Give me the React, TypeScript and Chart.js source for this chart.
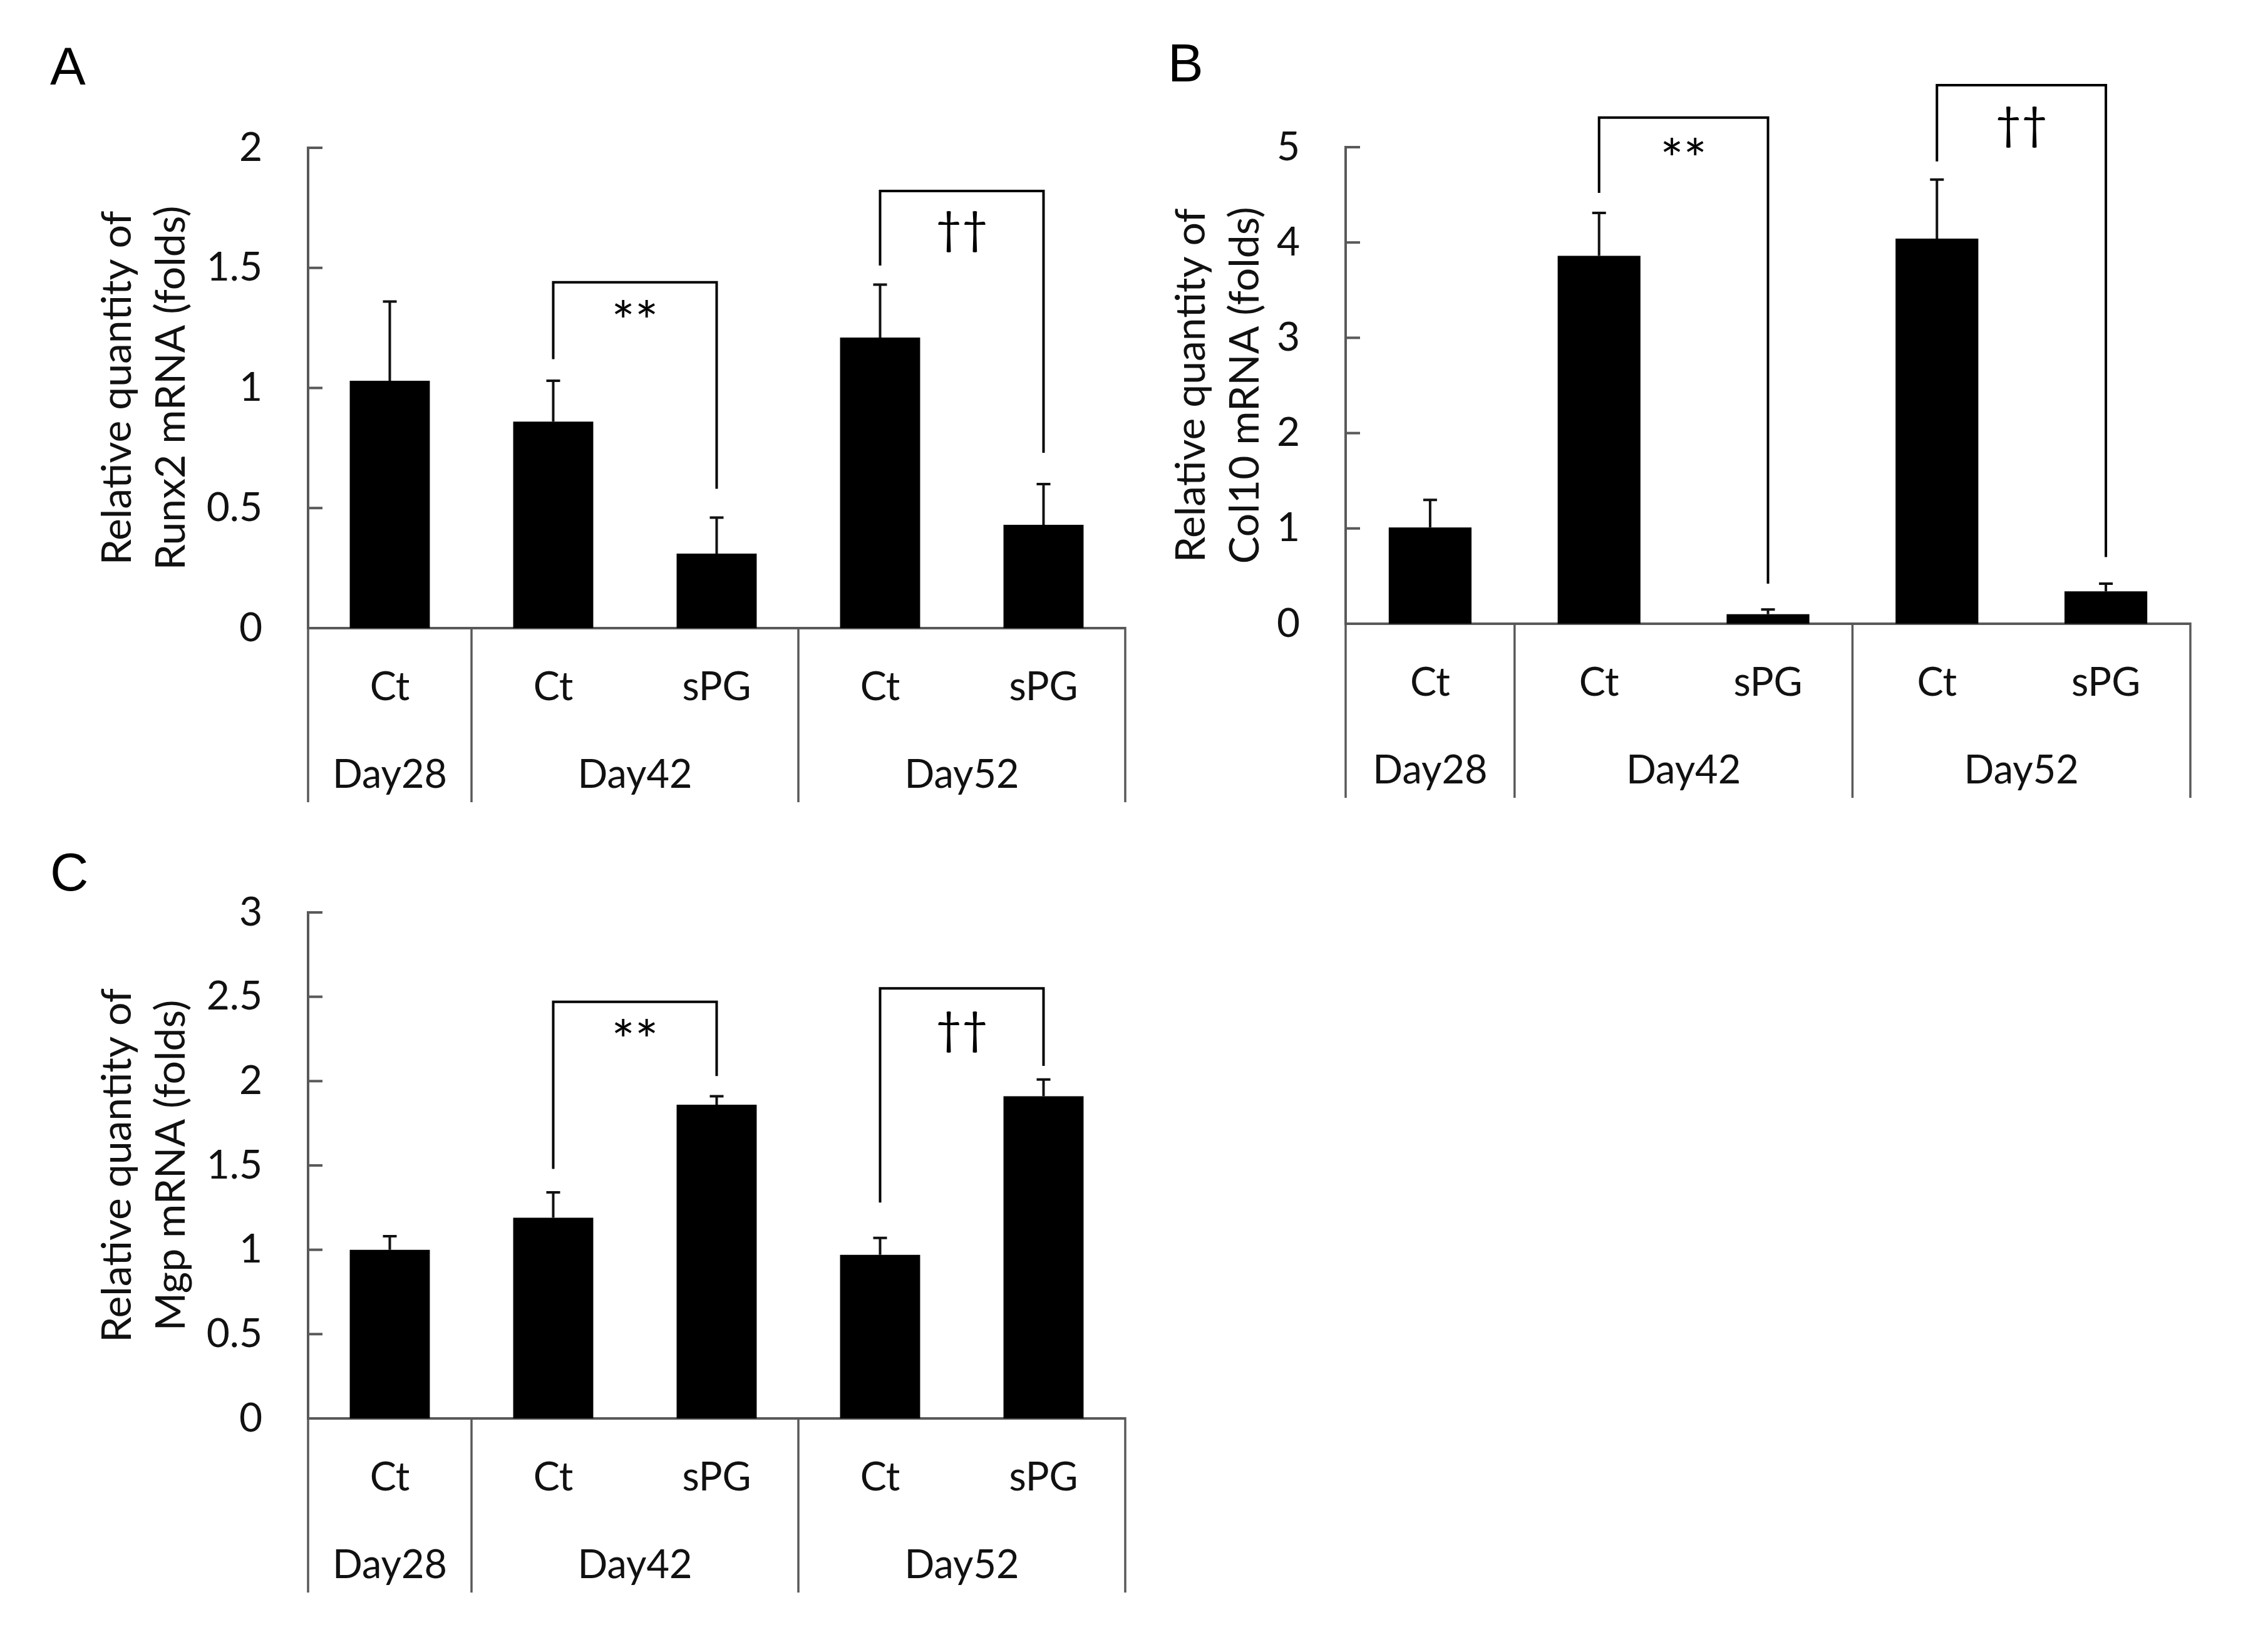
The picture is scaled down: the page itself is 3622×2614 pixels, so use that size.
import React, { useEffect, useRef } from 'react';
import { Chart, registerables } from 'chart.js';

Chart.register(...registerables);

// ---------------- data ----------------
const categories = ['Ct', 'Ct', 'sPG', 'Ct', 'sPG'];
const dayGroups = ['Day28', 'Day42', 'Day52'];
const dayGroupFirst = [0, 1, 3];
const dayGroupLast = [0, 2, 4];

const runx2Values = [1.03, 0.86, 0.31, 1.21, 0.43];
const runx2Errors = [0.33, 0.17, 0.15, 0.22, 0.17];

const col10Values = [1.01, 3.86, 0.10, 4.04, 0.34];
const col10Errors = [0.29, 0.45, 0.05, 0.62, 0.08];

const mgpValues = [1.0, 1.19, 1.86, 0.97, 1.91];
const mgpErrors = [0.08, 0.15, 0.05, 0.1, 0.1];

type Bracket = { from: number; to: number; top: number; leftEnd: number; rightEnd: number; mark: string; markAt: number };

const runx2Brackets: Bracket[] = [
  { from: 1, to: 2, top: 1.44, leftEnd: 1.12, rightEnd: 0.58, mark: '**', markAt: 1.33 },
  { from: 3, to: 4, top: 1.82, leftEnd: 1.51, rightEnd: 0.73, mark: '††', markAt: 1.65 },
];
const col10Brackets: Bracket[] = [
  { from: 1, to: 2, top: 5.31, leftEnd: 4.52, rightEnd: 0.42, mark: '**', markAt: 5.01 },
  { from: 3, to: 4, top: 5.65, leftEnd: 4.85, rightEnd: 0.7, mark: '††', markAt: 5.21 },
];
const mgpBrackets: Bracket[] = [
  { from: 1, to: 2, top: 2.47, leftEnd: 1.48, rightEnd: 2.03, mark: '**', markAt: 2.32 },
  { from: 3, to: 4, top: 2.55, leftEnd: 1.28, rightEnd: 2.09, mark: '††', markAt: 2.29 },
];

// ---------------- styles ----------------
const FONT = 'Lato, "Open Sans", sans-serif';
const LETTER_FONT = '"Liberation Sans", Arial, sans-serif';
const AXIS_COLOR = '#595959';
const TEXT_COLOR = '#111111';

type PanelCfg = {
  letter: string;
  letterX: number;
  letterY: number;
  values: number[];
  errors: number[];
  brackets: Bracket[];
  yMax: number;
  yStep: number;
  title: string[];
  titlePad: number;
  box: { left: number; top: number; width: number; height: number };
  padding: { left: number; right: number; top: number; bottom: number };
  yWidth: number;
};

const panels: PanelCfg[] = [
  {
    letter: 'A', letterX: 80, letterY: 135,
    values: runx2Values, errors: runx2Errors, brackets: runx2Brackets,
    yMax: 2, yStep: 0.5,
    title: ['Relative quantity of', 'Runx2 mRNA (folds)'], titlePad: 145,
    box: { left: 0, top: 0, width: 1850, height: 1320 },
    padding: { left: 0, right: 53, top: 236, bottom: 27 },
    yWidth: 492,
  },
  {
    letter: 'B', letterX: 15, letterY: 130,
    values: col10Values, errors: col10Errors, brackets: col10Brackets,
    yMax: 5, yStep: 1,
    title: ['Relative quantity of', 'Col10 mRNA (folds)'], titlePad: 10,
    box: { left: 1850, top: 0, width: 1772, height: 1320 },
    padding: { left: 0, right: 124, top: 235, bottom: 34 },
    yWidth: 299,
  },
  {
    letter: 'C', letterX: 80, letterY: 92,
    values: mgpValues, errors: mgpErrors, brackets: mgpBrackets,
    yMax: 3, yStep: 0.5,
    title: ['Relative quantity of', 'Mgp mRNA (folds)'], titlePad: 145,
    box: { left: 0, top: 1330, width: 1850, height: 1284 },
    padding: { left: 0, right: 53, top: 127, bottom: 59 },
    yWidth: 492,
  },
];

function makeDecor(cfg: PanelCfg) {
  return {
    id: 'decor' + cfg.letter,
    afterDraw(chart: any) {
      const { ctx, chartArea } = chart;
      const x = chart.scales.x;
      const y = chart.scales.y;
      ctx.save();

      // inward tick marks on the value axis
      ctx.strokeStyle = AXIS_COLOR;
      ctx.lineWidth = 4;
      y.ticks.forEach((t: any) => {
        const py = y.getPixelForValue(t.value);
        ctx.beginPath();
        ctx.moveTo(chartArea.left, py);
        ctx.lineTo(chartArea.left + 23, py);
        ctx.stroke();
      });

      // table lines below the axis
      const tableDepth = 278;
      const bounds: number[] = [chartArea.left];
      for (let g = 1; g < dayGroups.length; g++) {
        const a = x.getPixelForValue(dayGroupFirst[g] - 1);
        const b = x.getPixelForValue(dayGroupFirst[g]);
        bounds.push((a + b) / 2);
      }
      bounds.push(chartArea.right);
      ctx.lineWidth = 3.5;
      bounds.forEach((bx) => {
        ctx.beginPath();
        ctx.moveTo(bx, chartArea.bottom - 2);
        ctx.lineTo(bx, chartArea.bottom + tableDepth);
        ctx.stroke();
      });

      // group labels
      ctx.fillStyle = TEXT_COLOR;
      ctx.font = `63px ${FONT}`;
      ctx.textAlign = 'center';
      ctx.textBaseline = 'middle';
      dayGroups.forEach((g, i) => {
        const cx = (x.getPixelForValue(dayGroupFirst[i]) + x.getPixelForValue(dayGroupLast[i])) / 2;
        ctx.fillText(g, cx, chartArea.bottom + 235);
      });

      // error bars (upper)
      const meta = chart.getDatasetMeta(0);
      ctx.strokeStyle = '#111111';
      ctx.lineWidth = 4;
      cfg.values.forEach((v, i) => {
        const bx = meta.data[i].x;
        const y0 = y.getPixelForValue(v);
        const y1 = y.getPixelForValue(v + cfg.errors[i]);
        ctx.beginPath();
        ctx.moveTo(bx, y0);
        ctx.lineTo(bx, y1);
        ctx.moveTo(bx - 11, y1);
        ctx.lineTo(bx + 11, y1);
        ctx.stroke();
      });

      // significance brackets
      ctx.strokeStyle = '#000000';
      ctx.lineWidth = 4;
      cfg.brackets.forEach((b) => {
        const x1 = x.getPixelForValue(b.from);
        const x2 = x.getPixelForValue(b.to);
        const yt = y.getPixelForValue(b.top);
        ctx.beginPath();
        ctx.moveTo(x1, y.getPixelForValue(b.leftEnd));
        ctx.lineTo(x1, yt);
        ctx.lineTo(x2, yt);
        ctx.lineTo(x2, y.getPixelForValue(b.rightEnd));
        ctx.stroke();
        const size = b.mark === '**' ? 88 : 72;
        ctx.font = `${size}px ${FONT}`;
        ctx.fillStyle = '#000000';
        ctx.textAlign = 'center';
        ctx.textBaseline = 'alphabetic';
        const m = ctx.measureText(b.mark);
        const cy = y.getPixelForValue(b.markAt);
        ctx.fillText(b.mark, (x1 + x2) / 2, cy + (m.actualBoundingBoxAscent - m.actualBoundingBoxDescent) / 2);
      });

      // panel letter
      ctx.font = `85px ${LETTER_FONT}`;
      ctx.fillStyle = '#000000';
      ctx.textAlign = 'left';
      ctx.textBaseline = 'alphabetic';
      ctx.fillText(cfg.letter, cfg.letterX, cfg.letterY);

      ctx.restore();
    },
  };
}

function Panel({ cfg }: { cfg: PanelCfg }) {
  const ref = useRef<HTMLCanvasElement | null>(null);
  useEffect(() => {
    const canvas = ref.current;
    if (!canvas) return;
    const chart = new Chart(canvas, {
      type: 'bar',
      data: {
        labels: categories,
        datasets: [
          {
            data: cfg.values,
            backgroundColor: '#000000',
            borderWidth: 0,
            barPercentage: 0.49,
            categoryPercentage: 1.0,
          },
        ],
      },
      options: {
        responsive: false,
        animation: false,
        devicePixelRatio: 1,
        layout: { padding: cfg.padding },
        plugins: { legend: { display: false }, tooltip: { enabled: false } },
        scales: {
          x: {
            grid: { display: false, drawTicks: false },
            border: { display: true, color: AXIS_COLOR, width: 4 },
            ticks: {
              color: TEXT_COLOR,
              font: { family: FONT, size: 63, lineHeight: 1.2 },
              padding: 57,
              maxRotation: 0,
              autoSkip: false,
            },
            afterFit: (scale: any) => {
              scale.height = 290;
            },
          },
          y: {
            min: 0,
            max: cfg.yMax,
            grid: { display: false, drawTicks: false },
            border: { display: true, color: AXIS_COLOR, width: 4 },
            ticks: {
              stepSize: cfg.yStep,
              color: TEXT_COLOR,
              font: { family: FONT, size: 64, lineHeight: 1.2 },
              padding: 73,
              callback: (v: any) => String(Number(v)),
            },
            title: {
              display: true,
              text: cfg.title,
              color: TEXT_COLOR,
              font: { family: FONT, size: 66, lineHeight: 86 / 66 },
              padding: { top: cfg.titlePad, bottom: 0 },
            },
            afterFit: (scale: any) => {
              scale.width = cfg.yWidth;
            },
          },
        },
      } as any,
      plugins: [makeDecor(cfg)],
    });
    return () => chart.destroy();
  }, [cfg]);
  return (
    <canvas
      ref={ref}
      width={cfg.box.width}
      height={cfg.box.height}
      style={{
        position: 'absolute',
        left: cfg.box.left,
        top: cfg.box.top,
        width: cfg.box.width,
        height: cfg.box.height,
      }}
    />
  );
}

export default function App() {
  useEffect(() => {
    document.body.style.margin = '0';
    document.body.style.background = '#ffffff';
  }, []);
  return (
    <div style={{ position: 'relative', width: 3622, height: 2614, background: '#ffffff', overflow: 'hidden' }}>
      {panels.map((p) => (
        <Panel key={p.letter} cfg={p} />
      ))}
    </div>
  );
}
